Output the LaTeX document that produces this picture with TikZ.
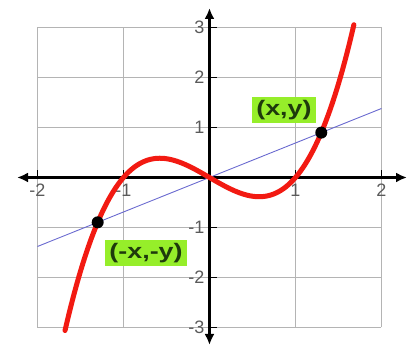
\documentclass[tikz,border=0pt]{standalone}
\usepackage{fontspec}
\setmainfont{Liberation Sans}
\usetikzlibrary{arrows.meta}
\definecolor{gridgray}{HTML}{B4B4B4}
\definecolor{curvered}{HTML}{F21A12}
\definecolor{lineblue}{HTML}{6A6AD0}
\definecolor{boxgreen}{HTML}{96EE2A}
\definecolor{textgreen}{HTML}{1E3A0C}
\definecolor{ticklabel}{HTML}{5A5A5A}
\begin{document}
\begin{tikzpicture}[x=86pt,y=50pt,
  gridline/.style={gridgray, line width=1.4pt},
  axisline/.style={black, line width=2.6pt, {Latex[length=11pt,width=10pt]}-{Latex[length=11pt,width=10pt]}},
  tickmark/.style={black, line width=1.6pt},
  ticklab/.style={text=ticklabel, font=\fontsize{18}{18}\selectfont, inner sep=0.5pt},
  curveline/.style={curvered, line width=5pt, line cap=round},
  chordline/.style={lineblue, line width=0.9pt},
  dot/.style={circle, fill=black, inner sep=0pt, minimum size=12pt},
  ptlabel/.style={fill=boxgreen, text=textgreen, font=\bfseries\fontsize{21}{21}\selectfont,
    inner xsep=4.5pt, inner ysep=3pt, text height=15pt, text depth=4.5pt}]
\useasboundingbox (-2.436,-3.39) rectangle (2.355,3.55);
% grid
\draw[gridline, xstep=1, ystep=1] (-2,-3) grid (2,3);
% axes
\coordinate (xl) at (-2.238,0);
\coordinate (xr) at (2.297,0);
\coordinate (yb) at (0,-3.35);
\coordinate (yt) at (0,3.39);
\draw[axisline] (xl) -- (xr);
\draw[axisline] (yb) -- (yt);
% ticks
\foreach \y in {-3,-2,-1,1,2,3} \draw[tickmark] (0,\y) -- ++(8pt,0);
\foreach \x in {-2,-1,1,2} \draw[tickmark] (\x,0) -- ++(0,7pt);
% tick labels
\foreach \x/\n in {-2/a,-1/b,1/c,2/d}
  \node[ticklab, anchor=north] (xlab\n) at ([yshift=-6pt]\x,0) {\x};
\foreach \y/\n in {-3/a,-2/b,-1/c,1/d,2/e,3/f}
  \node[ticklab, anchor=east] (ylab\n) at ([xshift=-4.5pt]0,\y) {\y};
% chord line
\coordinate (la) at (-2,-1.38);
\coordinate (lb) at (2,1.38);
\draw[chordline] (la) -- (lb);
% cubic
\draw[curveline] plot[domain=-1.68:1.68, samples=120, smooth] (\x,{\x*\x*\x-\x});
% points
\node[dot] (p) at (1.3,0.897) {};
\node[dot] (q) at (-1.3,-0.897) {};
% labels
\node[ptlabel] (lp) at (0.866,1.35) {\scalebox{1.28}[1]{(x,y)}};
\node[ptlabel] (lq) at (-0.738,-1.51) {\scalebox{1.28}[1]{(-x,-y)}};
\end{tikzpicture}
\end{document}
